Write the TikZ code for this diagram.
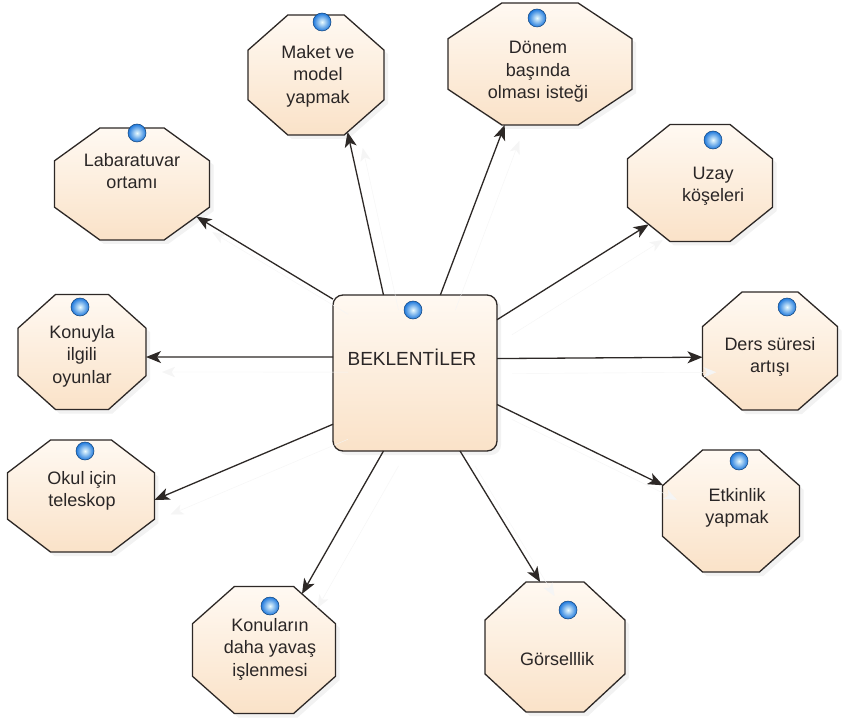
\documentclass[tikz,border=0pt]{standalone}
\usepackage{fontspec}
\setmainfont{Liberation Sans}
\usetikzlibrary{shapes.geometric,arrows.meta,shadows}

\definecolor{peachA}{RGB}{255,249,242}
\definecolor{peachB}{RGB}{250,226,200}
\definecolor{edge}{RGB}{45,40,38}
\definecolor{inkc}{RGB}{42,38,38}
\definecolor{bubA}{RGB}{235,252,255}
\definecolor{bubB}{RGB}{30,120,220}

% octagon across-flats width for minimum size 100pt: 92.388pt
\tikzset{
  box/.style={draw=edge, line width=1.3pt, top color=peachA, bottom color=peachB,
    inner sep=0pt, outer sep=0pt,
    drop shadow={shadow xshift=4pt, shadow yshift=-4pt, opacity=0.10}},
  oct/.style n args={2}{box, regular polygon, regular polygon sides=8,
    minimum size=100pt, transform shape,
    xscale=#1/92.388, yscale=#2/92.388},
  hub/.style={box, rectangle, rounded corners=10pt, minimum width=164pt, minimum height=156pt},
  lbl/.style={align=center, text=inkc, inner sep=0pt, font=\fontsize{18}{22.5}\selectfont},
  bub/.style={circle, minimum size=18pt, inner sep=0pt, draw=bubB!55!black, line width=0.5pt,
    inner color=bubA, outer color=bubB},
  arr/.style={line width=1.3pt, draw=edge, -{Stealth[length=15pt,width=12pt,inset=4pt]},
    preaction={draw=black!4, transform canvas={shift={(15pt,-15pt)}},
      -{Stealth[length=15pt,width=12pt,inset=4pt]}}},
}

\begin{document}
\begin{tikzpicture}[x=1pt,y=-1pt]
\useasboundingbox[fill=white] (0,0) rectangle (866,727);

% central node
\node[hub] (c) at (415,373) {};
\node[bub] (bc) at (413,310) {};
\node[lbl, font=\fontsize{19}{23}\selectfont] (tc) at (412,357) {BEKLENTİLER};

% surrounding octagons: {width}{height}
\node[oct={155}{112}] (o1) at (132,184) {};
\node[oct={136}{120}] (o2) at (316,75) {};
\node[oct={184}{122}] (o3) at (540,64) {};
\node[oct={145}{117}] (o4) at (700,183) {};
\node[oct={128}{115}] (o5) at (82,352) {};
\node[oct={135}{118}] (o6) at (770,351) {};
\node[oct={147}{112}] (o7) at (81,496) {};
\node[oct={137}{122}] (o8) at (731,511) {};
\node[oct={143}{127}] (o9) at (264,650) {};
\node[oct={140}{130}] (o10) at (555,647) {};

% marker bubbles
\node[bub] (b1) at (137,133) {};
\node[bub] (b2) at (322,22) {};
\node[bub] (b3) at (537,18) {};
\node[bub] (b4) at (713,140) {};
\node[bub] (b5) at (80,307) {};
\node[bub] (b6) at (787,307) {};
\node[bub] (b7) at (85,451) {};
\node[bub] (b8) at (739,461) {};
\node[bub] (b9) at (270,606) {};
\node[bub] (b10) at (568,610) {};

% labels
\node[lbl] (t1) at (132,171) {Labaratuvar\\ortamı};
\node[lbl] (t2) at (318,76) {Maket ve\\model\\yapmak};
\node[lbl] (t3) at (538,72) {Dönem\\başında\\olması isteği};
\node[lbl] (t4) at (713,186) {Uzay\\köşeleri};
\node[lbl] (t5) at (82,356) {Konuyla\\ilgili\\oyunlar};
\node[lbl] (t6) at (770,357) {Ders süresi\\artışı};
\node[lbl] (t7) at (82,491) {Okul için\\teleskop};
\node[lbl] (t8) at (737,508) {Etkinlik\\yapmak};
\node[lbl] (t9) at (270,649) {Konuların\\daha yavaş\\işlenmesi};
\node[lbl] (t10) at (557,659) {Görselllik};

% connectors
\draw[arr] (c.138) -- (o1.-35.8);
\draw[arr] (c.112) -- (o2.-64.8);
\draw[arr] (c.72) -- (o3.249.4);
\draw[arr] (c.33) -- (o4.225.4);
\draw[arr] (c.10.4) -- (o6.186.8);
\draw[arr] (c.169.6) -- (o5.-5.9);
\draw[arr] (c.212) -- (o7.-4.1);
\draw[arr] (c.-21) -- (o8.157.7);
\draw[arr] (c.-60) -- (o10.102.7);
\draw[arr] (c.-112) -- (o9.59.9);
\end{tikzpicture}
\end{document}
